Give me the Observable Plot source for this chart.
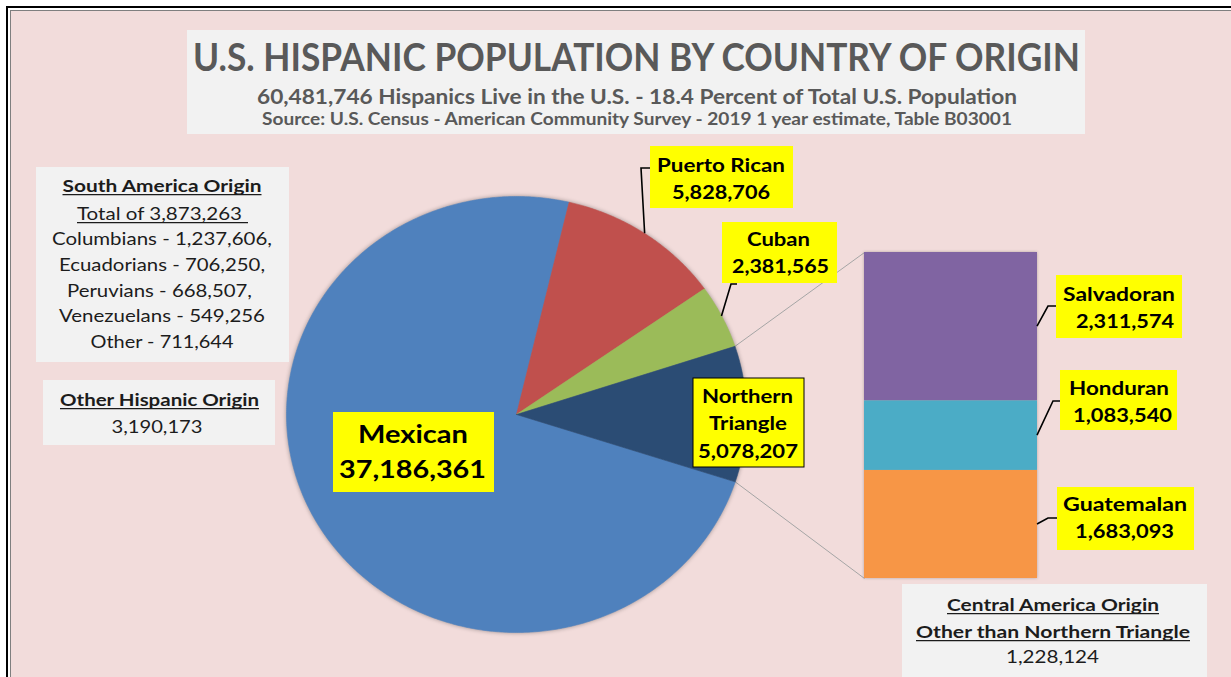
<!DOCTYPE html>
<html><head><meta charset="utf-8">
<script src="https://cdn.jsdelivr.net/npm/d3@7"></script>
<script src="https://cdn.jsdelivr.net/npm/@observablehq/plot@0.6"></script>
<style>
body{margin:0;background:#fff;}
#wrap{position:relative;width:1231px;height:677px;overflow:hidden;font-family:Lato,"Open Sans",sans-serif;}
#outer{position:absolute;left:6px;top:6px;width:1300px;height:800px;border-left:2.5px solid #000;border-top:2.5px solid #000;background:#fff;}
#inner{position:absolute;left:10px;top:10px;width:1300px;height:800px;border-left:1px solid #7f7f7f;border-top:1px solid #7f7f7f;background:#f2dcdb;}
#chart,#overlay{position:absolute;left:0;top:0;}
#chart g[aria-label="line"]{filter:drop-shadow(0 0 2px rgba(0,0,0,0.35));}
#chart g[aria-label="rect"]{filter:drop-shadow(0 0 1.5px rgba(0,0,0,0.25));}
#overlay text{font-family:Lato,"Open Sans",sans-serif;}
</style></head>
<body><div id="wrap"><div id="outer"></div><div id="inner"></div><div id="chart"></div><svg id="overlay" width="1231" height="677"></svg></div>
<script>
// ---------------- data ----------------
const pieNames = ["Mexican", "Puerto Rican", "Cuban", "Northern Triangle"];
const pieValues = [37186361, 5828706, 2381565, 5078207];
const barNames = ["Salvadoran", "Honduran", "Guatemalan"];
const barValues = [2311574, 1083540, 1683093];
const totalHispanic = 60481746;
const percentOfUS = 18.4;
const titleText = "U.S. HISPANIC POPULATION BY COUNTRY OF ORIGIN";
const sourceText = "Source: U.S. Census - American Community Survey - 2019 1 year estimate, Table B03001";
const southAmericaTotal = 3873263;
const southAmericaLines = ["Columbians - 1,237,606,", "Ecuadorians - 706,250,", "Peruvians - 668,507,", "Venezuelans - 549,256", "Other - 711,644"];
const otherHispanic = 3190173;
const centralAmericaOther = 1228124;

// ---------------- style / layout ----------------
const pieColors = ["#4f81bd", "#c0504d", "#9bbb59", "#2b4c74"];
const barColors = ["#8064a2", "#4bacc6", "#f79646"];
const W = 1231, H = 677;
const cx = 516, cy = 414, rx = 230, ry = 218;
const startDeg = 108;
const bar = {x1: (864 - cx) / rx, x2: (1037 - cx) / rx, top: (cy - 252) / ry, bottom: (cy - 578) / ry};
const fmt = d3.format(",");

// pie geometry from data
const arcs = d3.pie().sort(null).value(d => d.value)
  .startAngle(startDeg * Math.PI / 180).endAngle(startDeg * Math.PI / 180 + 2 * Math.PI)(
    pieNames.map((name, i) => ({name, value: pieValues[i]})));
const slicePts = [];
for (const a of arcs) {
  const n = Math.max(2, Math.ceil((a.endAngle - a.startAngle) / (0.5 * Math.PI / 180)));
  slicePts.push({name: a.data.name, x: 0, y: 0});
  for (let i = 0; i <= n; i++) {
    const t = a.startAngle + (a.endAngle - a.startAngle) * i / n;
    slicePts.push({name: a.data.name, x: Math.sin(t), y: Math.cos(t)});
  }
  slicePts.push({name: a.data.name, x: 0, y: 0});
}
// stacked bar from data
const barTotal = d3.sum(barValues);
let cum = 0;
const barSegs = barNames.map((name, i) => {
  const y1 = bar.top - (cum / barTotal) * (bar.top - bar.bottom);
  cum += barValues[i];
  const y2 = bar.top - (cum / barTotal) * (bar.top - bar.bottom);
  return {name, value: barValues[i], y1, y2, ym: (y1 + y2) / 2};
});
const nt = arcs[3];
const connectors = [
  {x1: Math.sin(nt.startAngle), y1: Math.cos(nt.startAngle), x2: bar.x1, y2: bar.top},
  {x1: Math.sin(nt.endAngle), y1: Math.cos(nt.endAngle), x2: bar.x1, y2: bar.bottom}
];

const chart = Plot.plot({
  width: W, height: H, margin: 0,
  style: {background: "transparent", overflow: "visible"},
  x: {domain: [-cx / rx, (W - cx) / rx], axis: null},
  y: {domain: [(cy - H) / ry, cy / ry], axis: null},
  color: {domain: [...pieNames, ...barNames], range: [...pieColors, ...barColors]},
  marks: [
    Plot.link(connectors, {x1: "x1", y1: "y1", x2: "x2", y2: "y2", stroke: "#a5a5a5", strokeWidth: 1}),
    Plot.line(slicePts, {x: "x", y: "y", z: "name", fill: "name", stroke: "name", strokeWidth: 0.6, curve: "linear"}),
    Plot.rect(barSegs, {x1: bar.x1, x2: bar.x2, y1: "y1", y2: "y2", fill: "name"})
  ]
});
document.getElementById("chart").appendChild(chart);

const sx = chart.scale("x"), sy = chart.scale("y");
const fx = sx.apply ? v => sx.apply(v) : d3.scaleLinear(sx.domain, sx.range);
const fy = sy.apply ? v => sy.apply(v) : d3.scaleLinear(sy.domain, sy.range);

// ---------------- annotations ----------------
const svg = d3.select("#overlay");
function box(x0, y0, x1, y1, fill, stroke) {
  svg.append("rect").attr("x", x0).attr("y", y0).attr("width", x1 - x0).attr("height", y1 - y0)
    .attr("fill", fill).attr("stroke", stroke || "none").attr("stroke-width", stroke ? 1 : 0);
}
function txt(x, base, s, size, weight, w, color, ul) {
  svg.append("text").attr("x", x).attr("y", base).attr("text-anchor", "middle")
    .attr("font-size", size).attr("font-weight", weight).attr("fill", color || "#000")
    .attr("textLength", w).attr("lengthAdjust", "spacingAndGlyphs").text(s);
  if (ul) {
    const u0 = ul === true ? x - w / 2 : ul[0], u1 = ul === true ? x + w / 2 : ul[1];
    svg.append("line").attr("x1", u0).attr("x2", u1).attr("y1", base + 2.6).attr("y2", base + 2.6)
      .attr("stroke", color || "#000").attr("stroke-width", 1.3);
  }
}
function leader(pts) {
  svg.append("path").attr("d", d3.line()(pts)).attr("fill", "none").attr("stroke", "#000").attr("stroke-width", 1.6);
}

// title
box(187, 30, 1085, 134, "#f2f2f2");
txt(636.5, 71, titleText, 38, 700, 887, "#595959");
txt(637, 104, `${fmt(totalHispanic)} Hispanics Live in the U.S. - ${percentOfUS} Percent of Total U.S. Population`, 20, 700, 760, "#595959");
txt(637, 125, sourceText, 16.5, 700, 750, "#595959");

// south america
const dark = "#1c1c1c";
box(36, 167, 289, 362, "#f2f2f2");
txt(162, 192, "South America Origin", 17, 700, 199, dark, true);
txt(159.5, 220, `Total of ${fmt(southAmericaTotal)}`, 17, 400, 165, dark, [77, 248]);
const saLayout = [[162, 245, 220], [162, 271, 206], [159.5, 297, 185], [162, 322, 206], [162, 348, 143]];
southAmericaLines.forEach((s, i) => txt(saLayout[i][0], saLayout[i][1], s, 17, 400, saLayout[i][2], dark));

// other hispanic
box(43, 380, 275, 445, "#f2f2f2");
txt(159.5, 406, "Other Hispanic Origin", 17, 700, 199, dark, true);
txt(157, 433, fmt(otherHispanic), 17, 400, 91, dark);

// central america other
box(902, 584, 1207, 700, "#f2f2f2");
txt(1053, 611, "Central America Origin", 17, 700, 212, dark, true);
txt(1053, 638, "Other than Northern Triangle", 17, 700, 274, dark, true);
txt(1052.5, 663, fmt(centralAmericaOther), 17, 400, 93, dark);

// leaders to slices / bar segments (edge points from data)
const midEdge = a => { const t = (a.startAngle + a.endAngle) / 2; return [fx(Math.sin(t)), fy(Math.cos(t))]; };
leader([[650, 168], [641, 168], midEdge(arcs[1])]);
leader([[737, 284], [731, 284], midEdge(arcs[2])]);
leader([[1056, 306], [1048, 306], [fx(bar.x2), fy(barSegs[0].ym)]]);
leader([[1060, 401], [1053, 401], [fx(bar.x2), fy(barSegs[1].ym)]]);
leader([[1057, 518], [1048, 518], [fx(bar.x2), fy(barSegs[2].ym)]]);

// yellow value labels
const Y = "#ffff00";
box(650, 146, 793, 208, Y);
txt(721, 172, pieNames[1], 19.5, 700, 128);
txt(721, 199, fmt(pieValues[1]), 19.5, 700, 98);

box(722, 222, 837, 283, Y);
txt(778.5, 246, pieNames[2], 19.5, 700, 63);
txt(780.5, 273, fmt(pieValues[2]), 19.5, 700, 97);

box(693, 378, 804, 467, Y, "#000");
const [ntA, ntB] = pieNames[3].split(" ");
txt(747.5, 403, ntA, 18.5, 700, 91);
txt(748, 430, ntB, 18.5, 700, 78);
txt(748, 458, fmt(pieValues[3]), 18.5, 700, 100);

box(333, 412, 494, 492, Y);
txt(413, 443, pieNames[0], 24.5, 700, 110);
txt(412.5, 478, fmt(pieValues[0]), 24.5, 700, 147);

box(1056, 275, 1182, 338, Y);
txt(1119, 301, barNames[0], 19.5, 700, 112);
txt(1125, 328, fmt(barValues[0]), 19.5, 700, 98);

box(1060, 370, 1177, 430, Y);
txt(1119, 395, barNames[1], 19.5, 700, 100);
txt(1122.5, 422, fmt(barValues[1]), 19.5, 700, 99);

box(1057, 487, 1194, 550, Y);
txt(1125, 511, barNames[2], 19.5, 700, 124);
txt(1124.5, 538, fmt(barValues[2]), 19.5, 700, 99);
</script>
</body></html>
